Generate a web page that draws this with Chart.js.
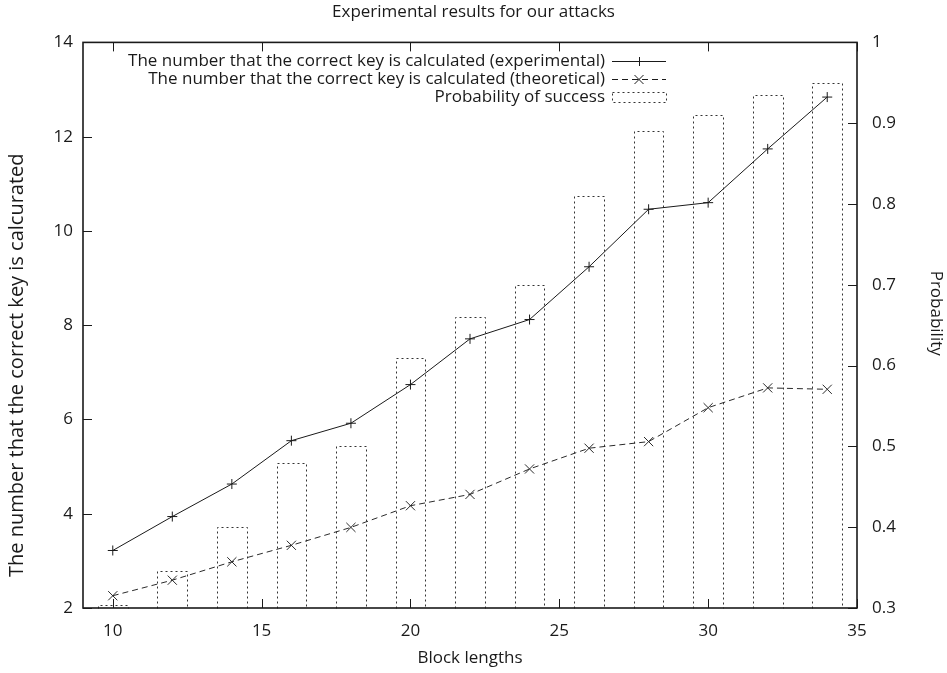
<!DOCTYPE html>
<html>
<head>
<meta charset="utf-8">
<script src="https://cdn.jsdelivr.net/npm/chart.js@4/dist/chart.umd.min.js"></script>
<style>
html,body{margin:0;padding:0;background:#fff;}
#wrap{width:947px;height:673px;}
</style>
</head>
<body>
<div id="wrap"><canvas id="c" width="947" height="673"></canvas></div>
<script>
// ---- data ----
const blockLengths = [10, 12, 14, 16, 18, 20, 22, 24, 26, 28, 30, 32, 34];
const experimental = [3.22, 3.94, 4.63, 5.55, 5.92, 6.74, 7.71, 8.12, 9.24, 10.46, 10.60, 11.74, 12.84];
const theoretical  = [2.26, 2.59, 2.98, 3.33, 3.71, 4.17, 4.41, 4.95, 5.39, 5.53, 6.25, 6.67, 6.64];
const successProbability = [0.304, 0.346, 0.40, 0.48, 0.50, 0.61, 0.66, 0.70, 0.81, 0.89, 0.91, 0.935, 0.95];
const xTickValues = [10, 15, 20, 25, 30, 35];
const leftTickValues = [2, 4, 6, 8, 10, 12, 14];
const rightTickValues = [0.3, 0.4, 0.5, 0.6, 0.7, 0.8, 0.9, 1];
const seriesLabels = [
  'The number that the correct key is calculated (experimental)',
  'The number that the correct key is calculated (theoretical)',
  'Probability of success'
];
const titleText = 'Experimental results for our attacks';
const xTitle = 'Block lengths';
const yTitle = 'The number that the correct key is calcurated';
const y2Title = 'Probability';

// ---- style ----
const FONT = '"Open Sans"';
const FS = 17;
const INK = '#1a1a1a';

const pairs = (xs, ys) => xs.map((x, i) => ({ x: x, y: ys[i] }));

// inward ticks + frame (gnuplot style)
const framePlugin = {
  id: 'frame',
  afterDatasetsDraw(chart) {
    const { ctx, chartArea: a, scales } = chart;
    const L = 9;
    ctx.save();
    ctx.strokeStyle = INK;
    ctx.lineWidth = 1;
    ctx.beginPath();
    scales.x.ticks.forEach(t => {
      const px = Math.round(scales.x.getPixelForValue(t.value)) + 0.5;
      ctx.moveTo(px, a.bottom); ctx.lineTo(px, a.bottom - L);
      ctx.moveTo(px, a.top); ctx.lineTo(px, a.top + L);
    });
    scales.y.ticks.forEach(t => {
      const py = Math.round(scales.y.getPixelForValue(t.value)) + 0.5;
      ctx.moveTo(a.left, py); ctx.lineTo(a.left + L, py);
    });
    scales.y1.ticks.forEach(t => {
      const py = Math.round(scales.y1.getPixelForValue(t.value)) + 0.5;
      ctx.moveTo(a.right, py); ctx.lineTo(a.right - L, py);
    });
    ctx.stroke();
    ctx.lineWidth = 1.6;
    ctx.strokeRect(a.left, a.top, a.right - a.left, a.bottom - a.top);
    ctx.restore();
  }
};

// dotted outline bars
const dottedBars = {
  id: 'dottedBars',
  afterDatasetDraw(chart, args) {
    const meta = args.meta;
    if (meta.type !== 'bar') return;
    const ctx = chart.ctx;
    ctx.save();
    ctx.strokeStyle = '#333';
    ctx.lineWidth = 1;
    ctx.setLineDash([2, 3]);
    meta.data.forEach(el => {
      const p = el.getProps(['x', 'y', 'base', 'width'], true);
      const x0 = Math.round(p.x - p.width / 2) + 0.5;
      const x1 = Math.round(p.x + p.width / 2) + 0.5;
      const y0 = Math.round(p.y) + 0.5;
      const y1 = Math.round(p.base) + 0.5;
      ctx.beginPath();
      ctx.moveTo(x0, y1); ctx.lineTo(x0, y0); ctx.lineTo(x1, y0); ctx.lineTo(x1, y1);
      ctx.stroke();
    });
    ctx.restore();
  }
};

// gnuplot-style key inside the plot (text right-aligned, sample on the right)
const keyPlugin = {
  id: 'gkey',
  afterDraw(chart) {
    const ctx = chart.ctx;
    const textRight = 605, s0 = 612, s1 = 666;
    const rows = [61, 79, 97];
    ctx.save();
    ctx.font = FS + 'px ' + FONT;
    ctx.fillStyle = INK;
    ctx.textAlign = 'right';
    ctx.textBaseline = 'middle';
    seriesLabels.forEach((lab, i) => ctx.fillText(lab, textRight, rows[i]));
    ctx.strokeStyle = INK;
    ctx.lineWidth = 1;
    let y = rows[0] + 0.5, mx = (s0 + s1) / 2;
    ctx.beginPath(); ctx.moveTo(s0, y); ctx.lineTo(s1, y);
    ctx.moveTo(mx - 4.5, y); ctx.lineTo(mx + 4.5, y);
    ctx.moveTo(mx + 0.5, y - 4.5); ctx.lineTo(mx + 0.5, y + 4.5); ctx.stroke();
    y = rows[1] + 0.5;
    ctx.setLineDash([6, 4]);
    ctx.beginPath(); ctx.moveTo(s0, y); ctx.lineTo(s1, y); ctx.stroke();
    ctx.setLineDash([]);
    ctx.beginPath();
    ctx.moveTo(mx - 4.5, y - 4.5); ctx.lineTo(mx + 4.5, y + 4.5);
    ctx.moveTo(mx - 4.5, y + 4.5); ctx.lineTo(mx + 4.5, y - 4.5); ctx.stroke();
    ctx.strokeStyle = '#333';
    ctx.setLineDash([2, 3]);
    ctx.strokeRect(s0 + 0.5, rows[2] - 4.5, s1 - s0, 10);
    ctx.restore();
  }
};

// shift vertical axis titles like the original
const titleShift = {
  id: 'titleShift',
  beforeDraw(chart, args, opts) {
    Object.keys(opts).forEach(id => {
      const s = chart.scales[id];
      if (!s || s.$shiftWrapped) return;
      const orig = s.drawTitle;
      s.drawTitle = function () {
        this.ctx.save();
        this.ctx.translate(0, opts[id]);
        orig.call(this);
        this.ctx.restore();
      };
      s.$shiftWrapped = true;
    });
  }
};

Chart.defaults.font.family = FONT;
Chart.defaults.font.size = FS;
Chart.defaults.color = INK;

new Chart(document.getElementById('c'), {
  type: 'bar',
  data: {
    datasets: [
      {
        type: 'line',
        label: seriesLabels[0],
        data: pairs(blockLengths, experimental),
        yAxisID: 'y',
        borderColor: INK,
        borderWidth: 1,
        pointStyle: 'cross',
        pointRadius: 5,
        pointBorderWidth: 1,
        pointBorderColor: INK,
        pointBackgroundColor: INK,
        tension: 0,
        fill: false
      },
      {
        type: 'line',
        label: seriesLabels[1],
        data: pairs(blockLengths, theoretical),
        yAxisID: 'y',
        borderColor: '#2a2a2a',
        borderWidth: 1,
        borderDash: [6, 4],
        pointStyle: 'crossRot',
        pointRadius: 6.5,
        pointBorderWidth: 1,
        pointBorderColor: '#2a2a2a',
        tension: 0,
        fill: false
      },
      {
        type: 'bar',
        label: seriesLabels[2],
        data: pairs(blockLengths, successProbability),
        yAxisID: 'y1',
        base: 0.3,
        backgroundColor: 'rgba(0,0,0,0)',
        borderWidth: 0,
        barPercentage: 0.5,
        categoryPercentage: 1
      }
    ]
  },
  options: {
    responsive: false,
    animation: false,
    devicePixelRatio: 1,
    layout: { padding: 0 },
    plugins: {
      legend: { display: false },
      tooltip: { enabled: false },
      title: {
        display: true,
        text: titleText,
        color: INK,
        font: { size: FS, weight: 'normal', family: FONT },
        padding: { top: 2, bottom: 20 }
      },
      titleShift: { y: 40, y1: -12 }
    },
    scales: {
      x: {
        type: 'linear',
        min: 9, max: 35,
        offset: false,
        afterBuildTicks: s => { s.ticks = xTickValues.map(v => ({ value: v })); },
        afterFit: s => { s.height = 65; },
        grid: { display: false, drawTicks: false },
        border: { display: false },
        ticks: { padding: 13, color: INK, maxRotation: 0 },
        title: { display: true, text: xTitle, color: INK, padding: { top: 0, bottom: 5 } }
      },
      y: {
        type: 'linear',
        position: 'left',
        min: 2, max: 14,
        afterBuildTicks: s => { s.ticks = leftTickValues.map(v => ({ value: v })); },
        afterFit: s => { s.width = 83; },
        grid: { display: false, drawTicks: false },
        border: { display: false },
        ticks: { padding: 10, color: INK },
        title: { display: true, text: yTitle, color: INK, font: { size: 20 }, padding: { top: 5, bottom: 0 } }
      },
      y1: {
        type: 'linear',
        position: 'right',
        min: 0.3, max: 1,
        afterBuildTicks: s => { s.ticks = rightTickValues.map(v => ({ value: v })); },
        afterFit: s => { s.width = 90; },
        grid: { display: false, drawTicks: false },
        border: { display: false },
        ticks: { padding: 15, color: INK, callback: v => String(Math.round(v * 10) / 10) },
        title: { display: true, text: y2Title, color: INK, padding: { top: 1, bottom: 0 } }
      }
    }
  },
  plugins: [framePlugin, dottedBars, keyPlugin, titleShift]
});
</script>
</body>
</html>
